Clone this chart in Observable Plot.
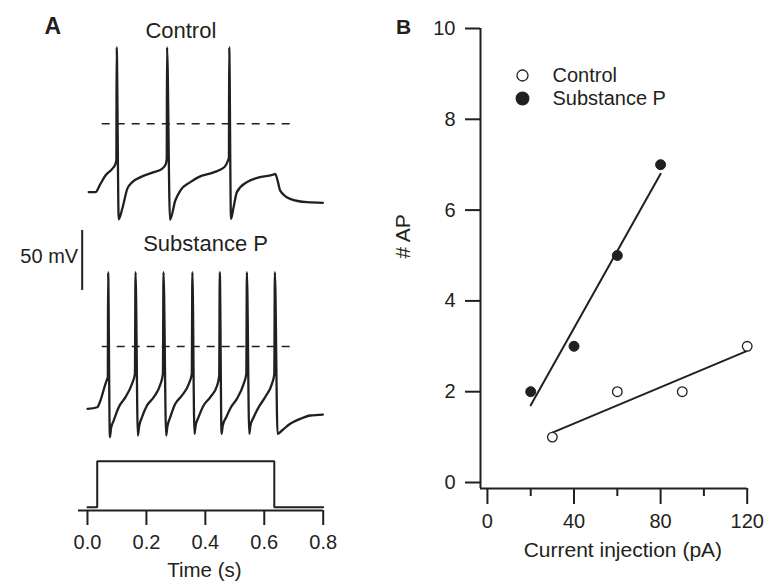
<!DOCTYPE html>
<html>
<head>
<meta charset="utf-8">
<script src="https://cdn.jsdelivr.net/npm/d3@7"></script>
<script src="https://cdn.jsdelivr.net/npm/@observablehq/plot@0.6"></script>
<style>
  body { margin: 0; background: #fff; }
  #fig { position: relative; width: 764px; height: 581px; background: #fff; overflow: hidden; }
  #fig svg { position: absolute; }
</style>
</head>
<body>
<div id="fig"></div>
<script>
// ---------------- Panel A data (time in s, membrane potential in mV) ----------------
const controlTime = [0.004, 0.027, 0.044, 0.061, 0.084, 0.095, 0.098, 0.099, 0.106,
  0.118, 0.135, 0.152, 0.180, 0.225, 0.253, 0.266, 0.269, 0.270, 0.280,
  0.298, 0.315, 0.349, 0.377, 0.428, 0.465, 0.476, 0.480, 0.481, 0.487,
  0.496, 0.507, 0.541, 0.586, 0.632, 0.637, 0.645, 0.654, 0.688, 0.745, 0.799];
const controlMV = [-56.9, -56.9, -50.0, -43.1, -37.5, -33.3, -30.0, 63.9, -79.5,
  -70.8, -54.2, -48.6, -44.4, -40.3, -37.5, -33.3, -29.0, 63.9, -80.0,
  -63.9, -55.6, -48.6, -44.4, -40.5, -36.0, -31.0, -28.0, 63.9, -79.2,
  -69.4, -56.9, -48.6, -44.4, -42.2, -41.7, -47.0, -55.6, -62.5, -65.3, -65.8];

const substPTime = [0.000, 0.033, 0.044, 0.061, 0.067, 0.069, 0.070, 0.076,
  0.080, 0.089, 0.106, 0.129, 0.151, 0.161, 0.163, 0.171,
  0.175, 0.185, 0.202, 0.225, 0.248, 0.256, 0.258, 0.267,
  0.271, 0.281, 0.298, 0.321, 0.344, 0.354, 0.356, 0.363,
  0.367, 0.377, 0.394, 0.417, 0.440, 0.447, 0.449, 0.455,
  0.459, 0.471, 0.487, 0.507, 0.530, 0.539, 0.541, 0.549,
  0.553, 0.564, 0.581, 0.603, 0.626, 0.634, 0.636, 0.645,
  0.660, 0.688, 0.722, 0.756, 0.799];
const substPMV = [-51.9, -50.6, -45.0, -31.1, -26.9, -25.6, 61.9, -75.6,
  -68.0, -61.7, -50.6, -42.2, -31.1, -22.8, 61.9, -74.2,
  -67.0, -58.9, -49.2, -42.2, -31.1, -22.8, 61.9, -74.2,
  -67.0, -58.9, -47.8, -40.8, -31.1, -22.8, 61.9, -72.8,
  -66.0, -58.9, -49.2, -42.2, -32.5, -24.2, 61.9, -72.8,
  -66.0, -58.9, -50.6, -43.6, -31.1, -22.8, 61.9, -72.8,
  -66.0, -58.9, -50.6, -42.2, -31.1, -23.3, 61.9, -72.8,
  -70.0, -64.4, -60.3, -57.5, -56.7];

// current-injection command (relative level)
const stimTime = [0.000, 0.033, 0.033, 0.634, 0.634, 0.800];
const stimLevel = [0, 0, 1, 1, 0, 0];

const timeTicks = [0, 0.2, 0.4, 0.6, 0.8];
const referenceMV = 0;                 // dashed reference line (mV)
const referenceSpan = [0.050, 0.688];  // time extent of dashed line (s)
const scaleBarMV = 50;

// ---------------- Panel B data ----------------
const controlCurrent = [30, 60, 90, 120];
const controlAP = [1, 2, 2, 3];
const substPCurrent = [20, 40, 60, 80];
const substPAP = [2, 3, 5, 7];
const bXTicks = [0, 40, 80, 120];
const bXMinorTicks = [20, 60, 100];
const bYTicks = [0, 2, 4, 6, 8, 10];
const legendLabels = ["Control", "Substance P"];

// ---------------- helpers ----------------
const ink = "#231f20";
const font = "'Liberation Sans', Arial, Helvetica, sans-serif";
const fig = document.getElementById("fig");
const baseStyle = (size) => ({ fontFamily: font, fontSize: size + "px", color: ink, background: "transparent", overflow: "visible" });
function place(svg, left, top) { svg.style.left = left + "px"; svg.style.top = top + "px"; fig.appendChild(svg); }

const controlTrace = controlTime.map((t, i) => ({ t, v: controlMV[i] }));
const substPTrace = substPTime.map((t, i) => ({ t, v: substPMV[i] }));
const stimTrace = stimTime.map((t, i) => ({ t, level: stimLevel[i] }));
const reference = [{ v: referenceMV, t0: referenceSpan[0], t1: referenceSpan[1] }];

const xA = { domain: [-0.0305, 0.8], axis: null };
const aW = 340, aML = 78, aMR = 17.3;

// A1: control trace
place(Plot.plot({
  width: aW, height: 250, marginLeft: aML, marginRight: aMR, marginTop: 3.33, marginBottom: 6.67,
  x: xA, y: { domain: [-100, 100], axis: null },
  style: baseStyle(20),
  marks: [
    Plot.ruleY(reference, { y: "v", x1: "t0", x2: "t1", stroke: ink, strokeWidth: 1.5, strokeDasharray: "8,7" }),
    Plot.line(controlTrace, { x: "t", y: "v", stroke: ink, strokeWidth: 2.3, curve: "monotone-x" }),
    Plot.text(["Control"], { text: d => d, frameAnchor: "top", dx: -20, dy: 18.3, lineAnchor: "top", fontSize: 22, fill: ink }),
    Plot.text(["A"], { text: d => d, frameAnchor: "top-left", dx: -34, dy: 13.4, lineAnchor: "top", fontSize: 23, fontWeight: "bold", fill: ink })
  ]
}), 0, 0);

// A2: substance P trace with scale bar
const scaleBar = [{ t: -0.018, from: 46.7, to: 46.7 + scaleBarMV, label: scaleBarMV + " mV" }];
place(Plot.plot({
  width: aW, height: 250, marginLeft: aML, marginRight: aMR, marginTop: 6, marginBottom: 4,
  x: xA, y: { domain: [-100, 100], axis: null },
  style: baseStyle(20),
  marks: [
    Plot.ruleY(reference, { y: "v", x1: "t0", x2: "t1", stroke: ink, strokeWidth: 1.5, strokeDasharray: "8,7" }),
    Plot.line(substPTrace, { x: "t", y: "v", stroke: ink, strokeWidth: 2.3, curve: "monotone-x" }),
    Plot.ruleX(scaleBar, { x: "t", y1: "from", y2: "to", stroke: ink, strokeWidth: 2 }),
    Plot.text(scaleBar, { x: "t", y: d => (d.from + d.to) / 2, text: "label", textAnchor: "end", lineAnchor: "middle", dx: -4, dy: -4, fontSize: 20, fill: ink }),
    Plot.text(["Substance P"], { text: d => d, frameAnchor: "top", dx: 4.7, dy: 9, lineAnchor: "top", fontSize: 22, fill: ink })
  ]
}), 0, 220);

// A3: current step and time axis
const stimYDomain = [-0.072, 1];
place(Plot.plot({
  width: aW, height: 141, marginLeft: aML, marginRight: aMR, marginTop: 20.7, marginBottom: 71,
  x: { domain: xA.domain }, y: { domain: stimYDomain, axis: null },
  style: baseStyle(20),
  marks: [
    Plot.ruleY([stimYDomain[0]], { stroke: ink, strokeWidth: 2 }),
    Plot.line(stimTrace, { x: "t", y: "level", stroke: ink, strokeWidth: 2, strokeLinejoin: "miter" }),
    Plot.axisX({ ticks: timeTicks, tickFormat: d3.format(".1f"), tickSize: 15, tickPadding: 9, strokeWidth: 2, stroke: ink, fill: ink, fontSize: 20, label: null }),
    Plot.text(["Time (s)"], { text: d => d, frameAnchor: "bottom", lineAnchor: "middle", dx: 3.5, dy: 59.5, fontSize: 20.5, fill: ink })
  ]
}), 0, 440);

// ---------------- Panel B ----------------
const controlPts = controlCurrent.map((x, i) => ({ x, y: controlAP[i] }));
const substPPts = substPCurrent.map((x, i) => ({ x, y: substPAP[i] }));
const bXDomain = [-3.2, 120], bYDomain = [-0.132, 10];
const legendMarks = legendLabels.flatMap((label, i) => [
  Plot.dot([label], { frameAnchor: "top-left", dx: 42, dy: 47 + 23 * i, r: i === 0 ? 5.5 : 6.3,
    fill: i === 0 ? "white" : ink, stroke: ink, strokeWidth: 1.3 }),
  Plot.text([label], { text: d => d, frameAnchor: "top-left", lineAnchor: "middle", dx: 72, dy: 47 + 23 * i, textAnchor: "start", fontSize: 20, fill: ink })
]);

place(Plot.plot({
  width: 384, height: 581, marginLeft: 100, marginRight: 17.3, marginTop: 28, marginBottom: 93,
  x: { domain: bXDomain }, y: { domain: bYDomain },
  style: baseStyle(20),
  marks: [
    Plot.ruleX([bXDomain[0]], { stroke: ink, strokeWidth: 2 }),
    Plot.ruleY([bYDomain[0]], { stroke: ink, strokeWidth: 2 }),
    Plot.axisY({ ticks: bYTicks, tickSize: 15, tickPadding: 10, strokeWidth: 2, stroke: ink, fill: ink, fontSize: 20, label: null }),
    Plot.axisX({ ticks: bXTicks, tickSize: 16, tickPadding: 9, strokeWidth: 2, stroke: ink, fill: ink, fontSize: 20, label: null }),
    Plot.axisX({ ticks: bXMinorTicks, tickSize: 8, tickFormat: () => "", strokeWidth: 2, stroke: ink, label: null }),
    Plot.linearRegressionY(controlPts, { x: "x", y: "y", ci: 0, stroke: ink, strokeWidth: 2 }),
    Plot.linearRegressionY(substPPts, { x: "x", y: "y", ci: 0, stroke: ink, strokeWidth: 2 }),
    Plot.dot(controlPts, { x: "x", y: "y", r: 4.8, fill: "white", stroke: ink, strokeWidth: 1.3 }),
    Plot.dot(substPPts, { x: "x", y: "y", r: 5, fill: ink, stroke: ink, strokeWidth: 1 }),
    ...legendMarks,
    Plot.text(["Current injection (pA)"], { text: d => d, frameAnchor: "bottom", lineAnchor: "middle", dx: 9, dy: 62, fontSize: 21, fill: ink }),
    Plot.text(["# AP"], { text: d => d, frameAnchor: "left", lineAnchor: "middle", dx: -77, rotate: -90, fontSize: 21, fill: ink }),
    Plot.text(["B"], { text: d => d, frameAnchor: "top-left", dx: -84.5, dy: -9.7, lineAnchor: "top", fontSize: 21, fontWeight: "bold", fill: ink })
  ]
}), 380, 0);
</script>
</body>
</html>
